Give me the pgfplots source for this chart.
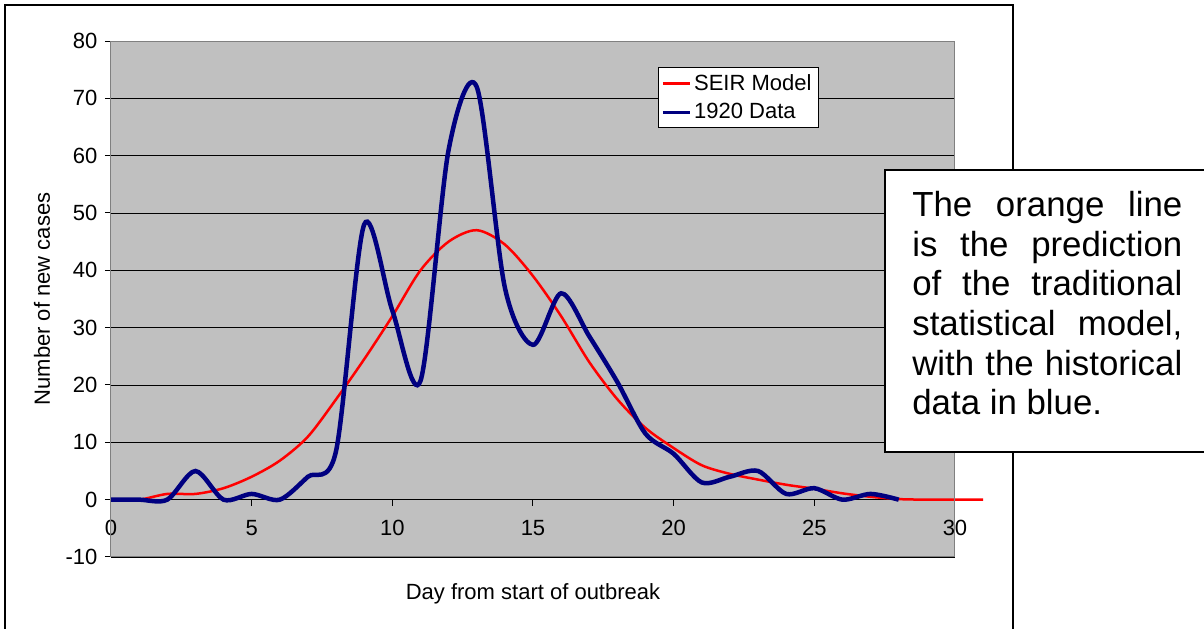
\documentclass[border=0pt]{standalone}
\usepackage{pgfplots}
\pgfplotsset{compat=1.18}
\usepackage{fontspec}
\setmainfont{Liberation Sans}
\definecolor{plotgray}{HTML}{C0C0C0}
\definecolor{navyb}{HTML}{000080}
\begin{document}
\begin{tikzpicture}[x=0.6pt,y=0.6pt]
\useasboundingbox (0,0) rectangle (1204,629);
% outer chart frame
\draw[line width=1.2pt] (5,-5) -- (5,624) -- (1013,624) -- (1013,-5);
\begin{axis}[
  at={(66.6pt,43.2pt)}, anchor=south west,
  scale only axis, width=506.4pt, height=309.6pt,
  xmin=0, xmax=30, ymin=-10, ymax=80,
  axis x line=middle, axis y line=left,
  hide obscured x ticks=false,
  axis line style={-, black, line width=0.6pt},
  axis background/.style={fill=plotgray},
  xtick={0,5,...,30}, ytick={-10,0,...,80},
  ymajorgrids, grid style={black, line width=0.5pt},
  tick style={black, line width=0.6pt},
  tick align=outside, major tick length=3.6pt,
  clip=false,
  /pgf/number format/assume math mode=true,
  tick label style={font=\fontsize{13.2}{15}\selectfont},
  xticklabel style={anchor=north, yshift=-5pt},
  yticklabel style={anchor=east, xshift=-1pt},
  xlabel={Day from start of outbreak},
  ylabel={Number of new cases},
  every axis x label/.style={at={(axis description cs:0.5,-0.0717)}, anchor=center, font=\fontsize{13.2}{15}\selectfont},
  every axis y label/.style={at={(axis description cs:-0.0818,0.5)}, anchor=center, rotate=90, font=\fontsize{13.2}{15}\selectfont},
  legend style={at={(axis description cs:0.648,0.9496)}, anchor=north west,
    draw=black, line width=0.5pt, fill=white, font=\fontsize{13.2}{15}\selectfont,
    inner xsep=2pt, inner ysep=2pt, row sep=2.5pt},
  legend cell align=left,
  legend image code/.code={\draw[#1, line width=1.5pt] (0pt,0pt) -- (16pt,0pt);},
]
\addplot[red, line width=1.5pt, smooth, tension=0.5] coordinates {
(0,0) (1,0) (2,1) (3,1) (4,2) (5,4) (6,6.8) (7,11) (8,17.5) (9,24.5) (10,32)
(11,40) (12,45) (13,47) (14,44.5) (15,39) (16,32) (17,24) (18,17.5) (19,12.5)
(20,9) (21,6) (22,4.5) (23,3.5) (24,2.6) (25,1.9) (26,1.1) (27,0.5) (28,0.1)
(29,0) (30,0) (31,0)};
\addlegendentry{SEIR Model}
\addplot[navyb, line width=2.7pt, smooth, tension=0.5] coordinates {
(0,0) (1,0) (2,0) (3,5) (4,0) (5,1) (6,0) (7,4) (8,8.5) (9,48) (10,33)
(11,20.7) (12,61) (13,72) (14,37) (15,27) (16,36) (17,28.5) (18,20.5) (19,11.5)
(20,8) (21,3) (22,4) (23,5) (24,1) (25,2) (26,0) (27,1) (28,0)};
\addlegendentry{1920 Data}
\draw[gray, line width=0.6pt] (rel axis cs:0,0) rectangle (rel axis cs:1,1);
\end{axis}
% text box
\draw[line width=1.2pt, fill=white] (885,177) rectangle (1210,459);
\node[anchor=north west, inner sep=0pt, text width=162pt, align=justify,
  font=\fontsize{20.9}{23.8}\selectfont] at (912,438)
  {\hyphenpenalty=10000 The orange line\linebreak is the prediction\linebreak of the traditional\linebreak statistical model,\linebreak with the historical\linebreak data in blue.};
\end{tikzpicture}
\end{document}
